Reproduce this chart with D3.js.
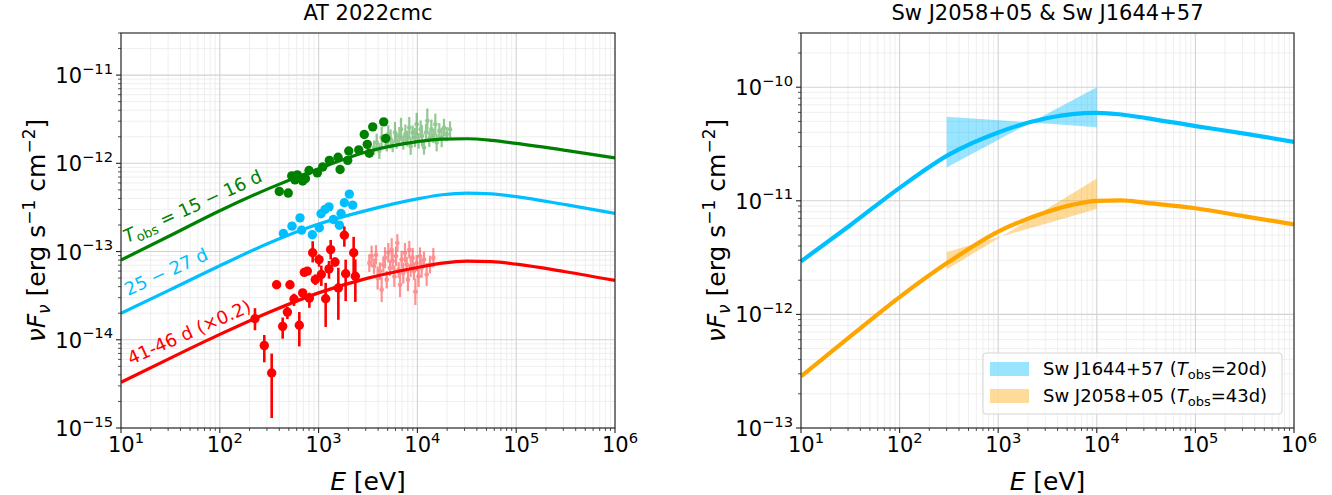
<!DOCTYPE html>
<html>
<head>
<meta charset='utf-8'>
<script src='https://d3js.org/d3.v7.min.js'></script>
<style>
body{margin:0;background:#fff;}
text{font-family:'DejaVu Sans',sans-serif;fill:#000;}
</style>
</head>
<body>
<div id='chart'></div>
<script>
// ---- AT 2022cmc (left) ----
var modelE = [10, 31.6, 100, 316, 1000, 3160, 1e4, 1.78e4, 3.16e4, 5.62e4, 1e5, 3.16e5, 1e6];
var modelGreen = [8.0e-14, 1.52e-13, 2.9e-13, 5.2e-13, 8.7e-13, 1.36e-12, 1.76e-12, 1.88e-12, 1.9e-12, 1.82e-12, 1.68e-12, 1.4e-12, 1.15e-12];
var modelCyan = [2.0e-14, 3.7e-14, 6.9e-14, 1.25e-13, 2.05e-13, 2.95e-13, 3.95e-13, 4.4e-13, 4.6e-13, 4.5e-13, 4.2e-13, 3.4e-13, 2.7e-13];
var modelRed = [3.3e-15, 6.2e-15, 1.15e-14, 2.05e-14, 3.4e-14, 5.0e-14, 6.6e-14, 7.4e-14, 7.8e-14, 7.7e-14, 7.2e-14, 5.9e-14, 4.7e-14];

var greenE = [400, 493, 535, 577, 609, 690, 735, 800, 971, 1100, 1285, 1574, 1650, 1970, 2020, 2550, 2900, 3110, 3260, 3530, 4560, 4780];
var greenF = [4.8e-13, 4.6e-13, 7.2e-13, 6.5e-13, 7.4e-13, 6.3e-13, 6.7e-13, 8.3e-13, 7.8e-13, 9.1e-13, 1.08e-12, 1.17e-12, 8.5e-13, 1.08e-12, 1.38e-12, 1.42e-12, 2.12e-12, 1.64e-12, 1.3e-12, 2.59e-12, 2.95e-12, 1.91e-12];

var greenXE = [3640, 3870, 4120, 4350, 4890, 5080, 5360, 5620, 5930, 6170, 6560, 6820, 7200, 7550, 7910, 8280, 8550, 8950, 9460, 9830, 10300, 10790, 11130, 11660, 12220, 12600, 13200, 13840, 14500, 15190, 15670, 16670, 17610, 18590, 19780, 21380];
var greenXF = [1.51e-12, 1.72e-12, 1.38e-12, 1.96e-12, 1.64e-12, 2.14e-12, 1.88e-12, 1.57e-12, 2.23e-12, 1.80e-12, 2.05e-12, 2.43e-12, 1.72e-12, 2.14e-12, 1.91e-12, 2.54e-12, 1.57e-12, 2.23e-12, 1.96e-12, 2.77e-12, 1.80e-12, 2.43e-12, 2.05e-12, 1.51e-12, 2.23e-12, 3.03e-12, 1.88e-12, 2.43e-12, 2.05e-12, 2.77e-12, 1.72e-12, 2.33e-12, 1.96e-12, 2.54e-12, 2.14e-12, 2.43e-12];
var greenXErr = [0.08, 0.1, 0.09, 0.12, 0.08, 0.1, 0.11, 0.07, 0.12, 0.09, 0.1, 0.13, 0.08, 0.11, 0.09, 0.12, 0.1, 0.08, 0.11, 0.13, 0.09, 0.1, 0.12, 0.08, 0.1, 0.14, 0.09, 0.11, 0.08, 0.12, 0.1, 0.09, 0.11, 0.1, 0.08, 0.09];

var cyanE = [440, 538, 648, 674, 864, 1017, 1058, 1161, 1274, 1410, 1622, 1686, 1822, 2047, 2213];
var cyanF = [1.60e-13, 1.94e-13, 2.41e-13, 1.75e-13, 1.55e-13, 1.86e-13, 2.68e-13, 3.0e-13, 3.21e-13, 2.31e-13, 1.99e-13, 2.70e-13, 3.57e-13, 4.48e-13, 3.36e-13];

var redE = [227, 282, 335, 376, 433, 483, 513, 564, 638, 690, 717, 769, 806, 871, 927, 1010, 1066, 1179, 1274, 1325, 1466, 1584, 1822, 1879, 2264, 2354];
var redF = [1.73e-14, 8.6e-15, 4.2e-15, 4.2e-14, 1.42e-14, 2.06e-14, 4.2e-14, 2.9e-14, 1.46e-14, 3.4e-14, 5.8e-14, 6.0e-14, 2.97e-14, 9.7e-14, 4.8e-14, 8.1e-14, 5.5e-14, 2.92e-14, 6.35e-14, 1.05e-13, 7.6e-14, 3.86e-14, 1.53e-13, 5.6e-14, 9.7e-14, 5.25e-14];
var redUp = [0.12, 0.12, 0.22, 0, 0.1, 0.06, 0, 0.06, 0.15, 0, 0, 0, 0.06, 0.13, 0.06, 0.06, 0.1, 0.18, 0.09, 0.11, 0.05, 0.23, 0.1, 0.16, 0.18, 0.19];
var redDn = [0.13, 0.19, 0.51, 0, 0.14, 0.08, 0, 0.08, 0.24, 0, 0, 0, 0.11, 0.11, 0.06, 0.08, 0.13, 0.32, 0.11, 0.11, 0.05, 0.36, 0.13, 0.31, 0.27, 0.29];

var redXE = [3260, 3440, 3640, 3810, 3960, 4180, 4350, 4520, 4700, 4890, 5080, 5280, 5490, 5620, 5840, 6070, 6270, 6460, 6670, 6930, 7200, 7490, 7790, 8030, 8280, 8550, 8950, 9240, 9530, 9830, 10300, 10620, 11050, 11660, 12410, 13410, 14500];
var redXF = [7.4e-14, 8.85e-14, 6.8e-14, 9.2e-14, 5.0e-14, 6.0e-14, 3.7e-14, 7.1e-14, 8.5e-14, 4.8e-14, 9.7e-14, 6.5e-14, 1.05e-13, 7.8e-14, 5.25e-14, 8.85e-14, 1.25e-13, 6.2e-14, 4.2e-14, 8.1e-14, 5.7e-14, 9.7e-14, 7.1e-14, 4.8e-14, 1.05e-13, 6.8e-14, 8.5e-14, 6.0e-14, 3.5e-14, 7.4e-14, 5.25e-14, 8.85e-14, 6.5e-14, 8.1e-14, 5.5e-14, 7.1e-14, 8.5e-14];
var redXErr = [0.1, 0.12, 0.09, 0.11, 0.13, 0.1, 0.14, 0.09, 0.12, 0.1, 0.11, 0.09, 0.13, 0.1, 0.12, 0.11, 0.1, 0.09, 0.14, 0.1, 0.12, 0.11, 0.09, 0.13, 0.1, 0.12, 0.11, 0.1, 0.15, 0.09, 0.12, 0.1, 0.11, 0.09, 0.13, 0.1, 0.11];

// ---- Sw J2058+05 & Sw J1644+57 (right) ----
var swE = [10, 31.6, 100, 316, 1000, 3160, 5620, 1e4, 1.78e4, 3.16e4, 1e5, 3.16e5, 1e6];
var sw1644 = [2.93e-12, 6.1e-12, 1.3e-11, 2.55e-11, 4.0e-11, 5.35e-11, 5.8e-11, 5.95e-11, 5.75e-11, 5.35e-11, 4.55e-11, 3.9e-11, 3.3e-11];
var sw2058 = [2.85e-13, 6.4e-13, 1.42e-12, 2.9e-12, 5.35e-12, 8.0e-12, 9.2e-12, 1.0e-11, 1.01e-11, 9.6e-12, 8.6e-12, 7.3e-12, 6.2e-12];

var bow1644E = [300, 2140, 1e4];
var bow1644Hi = [5.5e-11, 4.9e-11, 1.0e-10];
var bow1644Lo = [1.96e-11, 4.9e-11, 4.45e-11];
var bow2058E = [300, 1090, 1e4];
var bow2058Hi = [3.55e-12, 4.88e-12, 1.57e-11];
var bow2058Lo = [2.48e-12, 4.88e-12, 8.45e-12];

var legendNames = ['Sw J1644+57', 'Sw J2058+05'];
var legendDays = ['20d', '43d'];

var W = 1332, H = 495;
var svg = d3.select('#chart').append('svg')
  .attr('width', W).attr('height', H)
  .style('background', '#fff');

function sup(sel, k, fs) {
  sel.append('tspan').text('10');
  sel.append('tspan').attr('font-size', fs * 0.7).attr('dy', -fs * 0.45)
    .text(k < 0 ? '\u2212' + (-k) : '' + k);
}

function makePanel(cfg) {
  var x = d3.scaleLog().domain([10, 1e6]).range([cfg.left, cfg.right]);
  var y = d3.scaleLog().domain(cfg.yDom).range([cfg.bottom, cfg.top]);
  var g = svg.append('g');

  var xMajor = [], xMinor = [];
  for (var k = 1; k <= 6; k++) {
    xMajor.push(Math.pow(10, k));
    if (k < 6) for (var m = 2; m <= 9; m++) xMinor.push(m * Math.pow(10, k));
  }
  var yMajor = [], yMinor = [];
  var e0 = Math.round(Math.log10(cfg.yDom[0])), e1 = Math.floor(Math.log10(cfg.yDom[1]));
  for (var k = e0; k <= e1; k++) {
    yMajor.push(Math.pow(10, k));
    for (var m = 2; m <= 9; m++) {
      var v = m * Math.pow(10, k);
      if (v <= cfg.yDom[1] * 1.0001) yMinor.push(v);
    }
  }

  // grid
  g.selectAll('.gxm').data(xMinor).enter().append('line')
    .attr('x1', x).attr('x2', x).attr('y1', cfg.top).attr('y2', cfg.bottom)
    .attr('stroke', '#ebebeb').attr('stroke-width', 0.8);
  g.selectAll('.gym').data(yMinor).enter().append('line')
    .attr('y1', y).attr('y2', y).attr('x1', cfg.left).attr('x2', cfg.right)
    .attr('stroke', '#ebebeb').attr('stroke-width', 0.8);
  g.selectAll('.gx').data(xMajor).enter().append('line')
    .attr('x1', x).attr('x2', x).attr('y1', cfg.top).attr('y2', cfg.bottom)
    .attr('stroke', '#d2d2d2').attr('stroke-width', 1.1);
  g.selectAll('.gy').data(yMajor).enter().append('line')
    .attr('y1', y).attr('y2', y).attr('x1', cfg.left).attr('x2', cfg.right)
    .attr('stroke', '#d2d2d2').attr('stroke-width', 1.1);

  var clipId = 'clip' + cfg.left;
  svg.append('clipPath').attr('id', clipId).append('rect')
    .attr('x', cfg.left).attr('y', cfg.top)
    .attr('width', cfg.right - cfg.left).attr('height', cfg.bottom - cfg.top);
  var plot = g.append('g').attr('clip-path', 'url(#' + clipId + ')');

  // frame
  g.append('rect').attr('x', cfg.left).attr('y', cfg.top)
    .attr('width', cfg.right - cfg.left).attr('height', cfg.bottom - cfg.top)
    .attr('fill', 'none').attr('stroke', '#222').attr('stroke-width', 1.1);

  // ticks
  g.selectAll('.tx').data(xMajor).enter().append('line')
    .attr('x1', x).attr('x2', x).attr('y1', cfg.bottom).attr('y2', cfg.bottom + 5)
    .attr('stroke', '#222').attr('stroke-width', 1.1);
  g.selectAll('.txm').data(xMinor).enter().append('line')
    .attr('x1', x).attr('x2', x).attr('y1', cfg.bottom).attr('y2', cfg.bottom + 3)
    .attr('stroke', '#222').attr('stroke-width', 0.8);
  g.selectAll('.ty').data(yMajor).enter().append('line')
    .attr('y1', y).attr('y2', y).attr('x1', cfg.left - 5).attr('x2', cfg.left)
    .attr('stroke', '#222').attr('stroke-width', 1.1);
  g.selectAll('.tym').data(yMinor).enter().append('line')
    .attr('y1', y).attr('y2', y).attr('x1', cfg.left - 3).attr('x2', cfg.left)
    .attr('stroke', '#222').attr('stroke-width', 0.8);

  var fs = 21;
  xMajor.forEach(function (v) {
    var t = g.append('text').attr('x', x(v) + 5).attr('y', cfg.bottom + 24)
      .attr('text-anchor', 'middle').attr('font-size', fs);
    sup(t, Math.round(Math.log10(v)), fs);
  });
  yMajor.forEach(function (v) {
    var t = g.append('text').attr('x', cfg.left - 8).attr('y', y(v) + 8)
      .attr('text-anchor', 'end').attr('font-size', fs);
    sup(t, Math.round(Math.log10(v)), fs);
  });

  // axis labels
  var cx = (cfg.left + cfg.right) / 2, cy = (cfg.top + cfg.bottom) / 2;
  var xl = g.append('text').attr('x', cx).attr('y', 490)
    .attr('text-anchor', 'middle').attr('font-size', 25);
  xl.append('tspan').attr('font-style', 'italic').text('E');
  xl.append('tspan').text(' [eV]');

  var yl = g.append('text').attr('transform', 'translate(' + (cfg.left - 76) + ',' + cy + ') rotate(-90)')
    .attr('text-anchor', 'middle').attr('font-size', 25);
  yl.append('tspan').attr('font-style', 'italic').text('\u03bdF');
  yl.append('tspan').attr('font-style', 'italic').attr('font-size', 17).attr('dy', 5).text('\u03bd');
  yl.append('tspan').attr('dy', -5).text(' [erg s');
  yl.append('tspan').attr('font-size', 17).attr('dy', -10).text('\u22121');
  yl.append('tspan').attr('dy', 10).text(' cm');
  yl.append('tspan').attr('font-size', 17).attr('dy', -10).text('\u22122');
  yl.append('tspan').attr('dy', 10).text(']');

  g.append('text').attr('x', cx).attr('y', 20).attr('text-anchor', 'middle')
    .attr('font-size', 21).text(cfg.title);

  return {x: x, y: y, plot: plot, g: g};
}

function drawCurve(p, E, F, color, w) {
  var line = d3.line().x(function (d, i) { return p.x(E[i]); })
    .y(function (d) { return p.y(d); }).curve(d3.curveMonotoneX);
  p.plot.append('path').datum(F).attr('d', line)
    .attr('fill', 'none').attr('stroke', color).attr('stroke-width', w);
}

function drawPoints(p, E, F, up, dn, color, r, op, ew) {
  var grp = p.plot.append('g').attr('opacity', op);
  E.forEach(function (e, i) {
    var u = up ? up[i] : 0, d = dn ? dn[i] : 0;
    if (u > 0 || d > 0) {
      grp.append('line').attr('x1', p.x(e)).attr('x2', p.x(e))
        .attr('y1', p.y(F[i] * Math.pow(10, u))).attr('y2', p.y(F[i] / Math.pow(10, d)))
        .attr('stroke', color).attr('stroke-width', ew);
    }
    grp.append('circle').attr('cx', p.x(e)).attr('cy', p.y(F[i])).attr('r', r)
      .attr('fill', color);
  });
}

// left
var L = makePanel({left: 121, right: 615, top: 33, bottom: 428, yDom: [1e-15, 3e-11], title: 'AT 2022cmc'});
drawCurve(L, modelE, modelGreen, 'green', 3.2);
drawCurve(L, modelE, modelCyan, 'deepskyblue', 3.2);
drawCurve(L, modelE, modelRed, 'red', 3.2);
drawPoints(L, greenXE, greenXF, greenXErr, greenXErr, 'green', 2.3, 0.42, 2.2);
drawPoints(L, redXE, redXF, redXErr, redXErr, 'red', 2.3, 0.42, 2.2);
drawPoints(L, greenE, greenF, null, null, 'green', 4.7, 1, 2.5);
drawPoints(L, cyanE, cyanF, null, null, 'deepskyblue', 4.7, 1, 2.5);
drawPoints(L, redE, redF, redUp, redDn, 'red', 4.7, 1, 2.6);

var lg = L.g.append('text').attr('transform', 'translate(127,243) rotate(-24.5)')
  .attr('font-size', 18).style('fill', 'green');
lg.append('tspan').attr('font-style', 'italic').style('fill', 'green').text('T');
lg.append('tspan').attr('font-size', 13).attr('dy', 4).style('fill', 'green').text('obs');
lg.append('tspan').attr('dy', -4).style('fill', 'green').text(' = 15 \u2212 16 d');
L.g.append('text').attr('transform', 'translate(128,296) rotate(-24.5)')
  .attr('font-size', 18).style('fill', 'deepskyblue').text('25 \u2212 27 d');
L.g.append('text').attr('transform', 'translate(131,365) rotate(-24)')
  .attr('font-size', 18).style('fill', 'red').text('41-46 d (\u00d70.2)');

// right
var R = makePanel({left: 801, right: 1294, top: 33, bottom: 428, yDom: [1e-13, 3e-10], title: 'Sw J2058+05 & Sw J1644+57'});

function drawBow(p, E, hi, lo, color) {
  var area = d3.area().x(function (d, i) { return p.x(E[i]); })
    .y0(function (d, i) { return p.y(lo[i]); })
    .y1(function (d) { return p.y(d); });
  p.plot.append('path').datum(hi).attr('d', area)
    .attr('fill', color).attr('fill-opacity', 0.4);
}
drawBow(R, bow1644E, bow1644Hi, bow1644Lo, 'deepskyblue');
drawBow(R, bow2058E, bow2058Hi, bow2058Lo, 'orange');
drawCurve(R, swE, sw1644, 'deepskyblue', 4.2);
drawCurve(R, swE, sw2058, 'orange', 4.2);

// legend
var leg = R.g.append('g');
leg.append('rect').attr('x', 983).attr('y', 353).attr('width', 299).attr('height', 61)
  .attr('rx', 3).attr('fill', '#fff').attr('fill-opacity', 0.8)
  .attr('stroke', '#d5d5d5').attr('stroke-width', 1);
var legCols = ['deepskyblue', 'orange'];
legendNames.forEach(function (n, i) {
  var yy = 362 + i * 27;
  leg.append('rect').attr('x', 990).attr('y', yy).attr('width', 39).attr('height', 14)
    .attr('fill', legCols[i]).attr('fill-opacity', 0.4);
  var t = leg.append('text').attr('x', 1043).attr('y', yy + 13).attr('font-size', 18);
  t.append('tspan').text(n + ' (');
  t.append('tspan').attr('font-style', 'italic').text('T');
  t.append('tspan').attr('font-size', 13).attr('dy', 4).text('obs');
  t.append('tspan').attr('dy', -4).text('=' + legendDays[i] + ')');
});
</script>
</body>
</html>
